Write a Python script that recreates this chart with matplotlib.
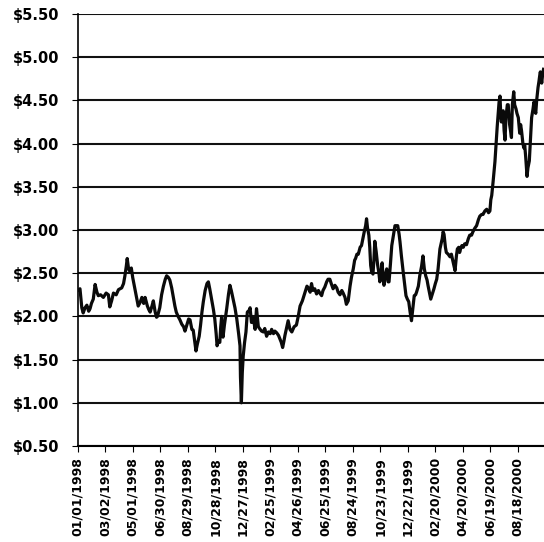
import matplotlib
matplotlib.use("Agg")
import matplotlib.pyplot as plt
import matplotlib.dates as mdates
import numpy as np

# days since 01/01/1998, price in $
days = [
    0, 5, 9, 12, 16, 20, 24, 27, 30, 34, 38, 42, 45, 50, 56, 62, 67, 70, 74, 78,
    84, 89, 96, 100, 103, 106, 108, 111, 114, 117, 120, 125, 129, 132, 136, 140,
    144, 147, 152, 155, 158, 162, 165, 169, 172, 174, 179, 183, 187, 191, 194,
    198, 201, 205, 208, 212, 215, 219, 223, 227, 231, 234, 238, 242, 245, 249,
    252, 255, 258, 261, 265, 268, 271, 274, 278, 282, 285, 288, 292, 296, 299,
    302, 304, 307, 310, 312, 314, 316, 317, 320, 325, 329, 332, 335, 339, 343,
    347, 351, 354, 355, 357, 359, 361, 364, 367, 370, 374, 376, 379, 383, 387,
    390, 394, 398, 401, 405, 408, 412, 416, 420, 423, 427, 430, 434, 438, 441,
    444, 447, 450, 452, 456, 459, 463, 467, 472, 477, 481, 485, 490, 496, 500,
    503, 507, 510, 513, 517, 521, 525, 528, 532, 535, 539, 543, 546, 550, 553,
    557, 561, 565, 568, 572, 576, 579, 583, 586, 590, 594, 597, 601, 604, 606,
    609, 612, 616, 619, 622, 625, 628, 630, 632, 635, 637, 639, 641, 644, 646,
    648, 651, 654, 657, 659, 662, 664, 666, 668, 671, 674, 677, 679, 682, 685,
    688, 692, 695, 698, 701, 703, 706, 710, 713, 716, 719, 722, 725, 728, 731,
    734, 737, 739, 743, 746, 750, 753, 756, 759, 762, 764, 767, 770, 773, 777,
    780, 783, 786, 790, 793, 795, 797, 799, 802, 804, 808, 812, 815, 817, 820,
    823, 826, 828, 831, 833, 836, 838, 841, 844, 848, 852, 855, 859, 862, 866,
    870, 874, 877, 881, 884, 888, 892, 896, 899, 901, 903, 906, 908, 910, 913,
    915, 917, 919, 921, 923, 924, 926, 928, 930, 932, 934, 935, 937, 939, 941,
    942, 944, 946, 948, 951, 953, 956, 958, 961, 964, 966, 968, 970, 971, 973,
    975, 977, 979, 980, 982, 985, 988, 990, 993, 995, 997, 999, 1001, 1002, 1004,
    1006, 1008, 1009, 1011, 1012, 1014, 1016,
]
prices = [
    2.30, 2.32, 2.10, 2.04, 2.10, 2.13, 2.06, 2.09, 2.15, 2.20, 2.37, 2.28, 2.24, 2.25, 2.22, 2.27, 2.25, 2.11, 2.18, 2.27,
    2.25, 2.31, 2.33, 2.38, 2.47, 2.58, 2.67, 2.55, 2.52, 2.56, 2.45, 2.31, 2.20, 2.12, 2.16, 2.22,
    2.15, 2.22, 2.12, 2.08, 2.05, 2.12, 2.18, 2.05, 1.99, 2.00, 2.10, 2.25, 2.35, 2.43, 2.47,
    2.45, 2.42, 2.33, 2.24, 2.12, 2.05, 2.00, 1.96, 1.91, 1.88, 1.83, 1.90, 1.97, 1.96, 1.85,
    1.84, 1.72, 1.60, 1.68, 1.77, 1.90, 2.05, 2.17, 2.30, 2.38, 2.40, 2.32, 2.20, 2.08, 1.97,
    1.80, 1.66, 1.72, 1.70, 1.88, 2.00, 1.85, 1.76, 1.90, 2.09, 2.26, 2.36, 2.30, 2.20, 2.10,
    1.97, 1.80, 1.66, 1.30, 1.00, 1.35, 1.54, 1.70, 1.82, 2.05, 2.07, 2.10, 1.93, 1.98, 1.85,
    2.09, 1.88, 1.85, 1.83, 1.82, 1.86, 1.77, 1.82, 1.80, 1.85, 1.80, 1.83, 1.81, 1.78, 1.74,
    1.70, 1.64, 1.72, 1.78, 1.88, 1.95, 1.85, 1.82, 1.88, 1.90, 2.00, 2.12, 2.18, 2.28, 2.35,
    2.33, 2.28, 2.38, 2.30, 2.32, 2.26, 2.30, 2.27, 2.24, 2.30, 2.34, 2.40, 2.43, 2.43, 2.38,
    2.32, 2.36, 2.33, 2.28, 2.25, 2.30, 2.27, 2.22, 2.14, 2.18, 2.35, 2.45, 2.55, 2.65, 2.67,
    2.72, 2.72, 2.80, 2.82, 2.90, 2.98, 3.05, 3.13, 3.03, 2.94, 2.80, 2.59, 2.52, 2.49, 2.65,
    2.87, 2.75, 2.60, 2.50, 2.40, 2.52, 2.62, 2.45, 2.36, 2.48, 2.55, 2.40, 2.40, 2.60, 2.82,
    2.92, 3.05, 3.05, 3.05, 2.95, 2.86, 2.70, 2.51, 2.38, 2.24, 2.20, 2.17, 2.05, 1.95, 2.10,
    2.24, 2.25, 2.28, 2.35, 2.47, 2.58, 2.70, 2.55, 2.47, 2.42, 2.36, 2.28, 2.20, 2.25, 2.32,
    2.38, 2.43, 2.55, 2.78, 2.85, 2.90, 2.98, 2.95, 2.80, 2.74, 2.72, 2.69, 2.72, 2.67, 2.60,
    2.53, 2.70, 2.78, 2.80, 2.74, 2.80, 2.82, 2.80, 2.84, 2.83, 2.90, 2.94, 2.94, 2.98, 3.02,
    3.05, 3.12, 3.16, 3.18, 3.18, 3.22, 3.24, 3.20, 3.22, 3.35, 3.40, 3.56, 3.68, 3.79, 4.04,
    4.20, 4.34, 4.48, 4.55, 4.30, 4.25, 4.30, 4.38, 4.15, 4.04, 4.30, 4.35, 4.45, 4.45, 4.30,
    4.22, 4.15, 4.07, 4.45, 4.60, 4.45, 4.40, 4.35, 4.30, 4.12, 4.22, 4.15, 4.05, 4.00, 3.95,
    3.98, 3.85, 3.70, 3.62, 3.72, 3.80, 4.10, 4.30, 4.40, 4.48, 4.40, 4.35, 4.50, 4.55, 4.65,
    4.72, 4.80, 4.83, 4.75, 4.70, 4.80, 4.86,
]
price_ticks = [0.5, 1.0, 1.5, 2.0, 2.5, 3.0, 3.5, 4.0, 4.5, 5.0, 5.5]

start = np.datetime64("1998-01-01")
dates = start + np.array(days, dtype="timedelta64[D]")
date_ticks = start + np.arange(0, 961, 60).astype("timedelta64[D]")

fig = plt.figure(figsize=(5.44, 5.42), dpi=100)
ax = fig.add_axes([0.1428, 0.1771, 0.8572, 0.7971])

for p in price_ticks:
    ax.axhline(p, color="#111111", lw=1.5, zorder=1)
ax.plot(dates, prices, color="#0a0a0a", lw=2.3, zorder=3)

ax.set_ylim(0.5, 5.5)
ax.set_xlim(start, start + np.timedelta64(1017, "D"))
ax.set_yticks(price_ticks)
ax.set_yticklabels([f"${p:.2f}" for p in price_ticks])
ax.set_xticks(date_ticks)
ax.xaxis.set_major_formatter(mdates.DateFormatter("%m/%d/%Y"))

for s in ["top", "right"]:
    ax.spines[s].set_visible(False)
ax.spines["left"].set_linewidth(1.2)
ax.spines["bottom"].set_linewidth(1.5)

ax.tick_params(axis="y", length=4, width=0.8, pad=9)
ax.tick_params(axis="x", length=4, width=0.8, pad=4)
for lab in ax.get_yticklabels():
    lab.set_fontsize(10.5)
    lab.set_fontweight("bold")
for lab in ax.get_xticklabels():
    lab.set_fontsize(9)
    lab.set_fontweight("bold")
    lab.set_rotation(90)
    lab.set_ha("center")
    lab.set_va("top")

fig.savefig("out.png", dpi=100)
